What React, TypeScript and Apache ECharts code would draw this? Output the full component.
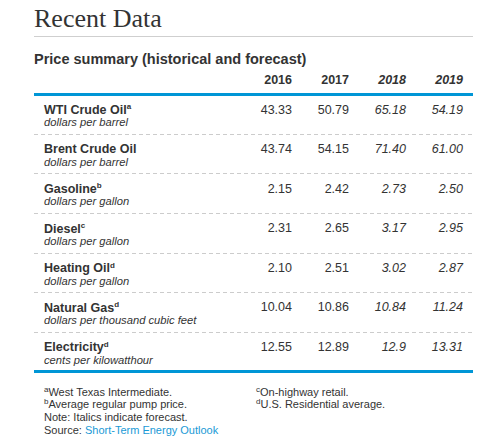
import React, { useEffect, useRef } from "react";
import * as echarts from "echarts";

const titleText = "Recent Data";
const subtitleText = "Price summary (historical and forecast)";
const years = ["2016", "2017", "2018", "2019"];
const forecastYears = [false, false, true, true];
const products = ["WTI Crude Oil", "Brent Crude Oil", "Gasoline", "Diesel", "Heating Oil", "Natural Gas", "Electricity"];
const productNotes = ["a", "", "b", "c", "d", "d", "d"];
const units = [
  "dollars per barrel",
  "dollars per barrel",
  "dollars per gallon",
  "dollars per gallon",
  "dollars per gallon",
  "dollars per thousand cubic feet",
  "cents per kilowatthour",
];
const wti = ["43.33", "50.79", "65.18", "54.19"];
const brent = ["43.74", "54.15", "71.40", "61.00"];
const gasoline = ["2.15", "2.42", "2.73", "2.50"];
const diesel = ["2.31", "2.65", "3.17", "2.95"];
const heatingOil = ["2.10", "2.51", "3.02", "2.87"];
const naturalGas = ["10.04", "10.86", "10.84", "11.24"];
const electricity = ["12.55", "12.89", "12.9", "13.31"];
const footnotesLeft = [
  ["a", "West Texas Intermediate."],
  ["b", "Average regular pump price."],
];
const footnotesRight = [
  ["c", "On-highway retail."],
  ["d", "U.S. Residential average."],
];
const noteText = "Note: Italics indicate forecast.";
const sourceLabel = "Source: ";
const sourceLink = "Short-Term Energy Outlook";

const FONT = "'Liberation Sans', Arial, Helvetica, sans-serif";
const SERIF = "'Liberation Serif', 'Times New Roman', serif";
const TEXT = "#333333";
const BLUE = "#0096d6";
const LINK = "#1a9ad6";

const TABLE_L = 34;
const TABLE_R = 473;
const TABLE_TOP = 94.5;
const TABLE_BOTTOM = 371.5;
const VALUES_L = 245;

export default function App() {
  const ref = useRef<HTMLDivElement>(null);

  useEffect(() => {
    if (!ref.current) return;
    const chart = echarts.init(ref.current, undefined, { renderer: "svg" });

    const rowsValues = [wti, brent, gasoline, diesel, heatingOil, naturalGas, electricity];
    const cells: [number, number, string][] = [];
    rowsValues.forEach((row, r) => row.forEach((v, c) => cells.push([c, r, v])));

    const footGraphics: any[] = [];
    const footTop = 391.5;
    const footStep = 12.8;
    const footStyle = {
      fontFamily: FONT,
      fontSize: 11,
      fill: TEXT,
      verticalAlign: "middle",
      align: "left",
    };
    const supRich = {
      sup: { fontFamily: FONT, fontSize: 8, fill: TEXT, verticalAlign: "top", lineHeight: 6 },
      t: { fontFamily: FONT, fontSize: 11, fill: TEXT, lineHeight: 13 },
      link: { fontFamily: FONT, fontSize: 11, fill: LINK, lineHeight: 13 },
    };
    footnotesLeft.forEach(([s, t], i) => {
      footGraphics.push({
        type: "text",
        x: TABLE_L + 10,
        y: footTop + footStep * i,
        style: { ...footStyle, text: `{sup|${s}}{t|${t}}`, rich: supRich },
      });
    });
    footnotesRight.forEach(([s, t], i) => {
      footGraphics.push({
        type: "text",
        x: 256,
        y: footTop + footStep * i,
        style: { ...footStyle, text: `{sup|${s}}{t|${t}}`, rich: supRich },
      });
    });
    footGraphics.push({
      type: "text",
      x: TABLE_L + 10,
      y: footTop + footStep * 2,
      style: { ...footStyle, text: noteText },
    });
    footGraphics.push({
      type: "text",
      x: TABLE_L + 10,
      y: footTop + footStep * 3,
      style: { ...footStyle, text: `{t|${sourceLabel}}{link|${sourceLink}}`, rich: supRich },
    });

    const option: any = {
      animation: false,
      backgroundColor: "#ffffff",
      graphic: [
        {
          type: "text",
          x: TABLE_L,
          y: 18,
          style: {
            text: titleText,
            fontFamily: SERIF,
            fontSize: 26,
            fill: TEXT,
            verticalAlign: "middle",
          },
        },
        {
          type: "line",
          shape: { x1: TABLE_L, y1: 36.5, x2: TABLE_R, y2: 36.5 },
          style: { stroke: "#cfcfcf", lineWidth: 1 },
        },
        {
          type: "text",
          x: TABLE_L,
          y: 59,
          style: {
            text: subtitleText,
            fontFamily: FONT,
            fontWeight: "bold",
            fontSize: 14.5,
            fill: TEXT,
            verticalAlign: "middle",
          },
        },
        {
          type: "rect",
          z: 100,
          shape: { x: TABLE_L, y: TABLE_TOP - 1.5, width: TABLE_R - TABLE_L, height: 3 },
          style: { fill: BLUE },
        },
        {
          type: "rect",
          z: 100,
          shape: { x: TABLE_L, y: TABLE_BOTTOM - 1.5, width: TABLE_R - TABLE_L, height: 3 },
          style: { fill: BLUE },
        },
        ...footGraphics,
      ],
      grid: [
        {
          left: TABLE_L,
          top: TABLE_TOP,
          width: TABLE_R - TABLE_L,
          height: TABLE_BOTTOM - TABLE_TOP,
          outerBoundsMode: "none",
          containLabel: false,
        },
        {
          left: VALUES_L,
          top: TABLE_TOP,
          width: TABLE_R - VALUES_L,
          height: TABLE_BOTTOM - TABLE_TOP,
          outerBoundsMode: "none",
          containLabel: false,
        },
      ],
      xAxis: [
        { type: "value", gridIndex: 0, show: false, min: 0, max: 1 },
        {
          type: "category",
          gridIndex: 1,
          position: "top",
          data: years,
          axisLine: { show: false },
          axisTick: { show: false },
          splitLine: { show: false },
          axisLabel: {
            interval: 0,
            hideOverlap: false,
            margin: 7.5,
            formatter: (v: string, i: number) => (forecastYears[i] ? `{f|${v}}` : `{h|${v}}`),
            rich: {
              h: {
                fontFamily: FONT,
                fontWeight: "bold",
                fontSize: 12.5,
                color: TEXT,
                width: 37,
                align: "right",
                lineHeight: 14,
              },
              f: {
                fontFamily: FONT,
                fontWeight: "bold",
                fontStyle: "italic",
                fontSize: 12.5,
                color: TEXT,
                width: 37,
                align: "right",
                lineHeight: 14,
              },
            },
          },
        },
      ],
      yAxis: [
        {
          type: "category",
          gridIndex: 0,
          inverse: true,
          data: products,
          axisLine: { show: false },
          axisTick: { show: false },
          splitLine: { show: true, lineStyle: { color: "#cccccc", width: 1, type: [4, 3] } },
          axisLabel: {
            inside: true,
            interval: 0,
            margin: 10,
            padding: [2, 0, 0, 0],
            formatter: (v: string, i: number) => {
              const note = productNotes[i] ? `{s|${productNotes[i]}}` : "";
              return `{n|${v}}${note}\n{u|${units[i]}}`;
            },
            rich: {
              n: { fontFamily: FONT, fontWeight: "bold", fontSize: 12.5, color: TEXT, lineHeight: 14 },
              s: {
                fontFamily: FONT,
                fontWeight: "bold",
                fontSize: 8,
                color: TEXT,
                lineHeight: 6,
                verticalAlign: "top",
              },
              u: { fontFamily: FONT, fontStyle: "italic", fontSize: 11.2, color: TEXT, lineHeight: 11 },
            },
          },
        },
        {
          type: "category",
          gridIndex: 1,
          inverse: true,
          data: products,
          show: false,
        },
      ],
      series: [
        {
          type: "custom",
          xAxisIndex: 1,
          yAxisIndex: 1,
          data: cells.map(([c, r]) => [c, r]),
          renderItem: (params: any, api: any) => {
            const cell = cells[params.dataIndex];
            const pt = api.coord([api.value(0), api.value(1)]);
            const bw = api.size([1, 0])[0];
            const bh = api.size([0, 1])[1];
            return {
              type: "text",
              x: pt[0] + bw / 2 - 10,
              y: pt[1] - bh / 2 + 15,
              style: {
                text: cell[2],
                fontFamily: FONT,
                fontSize: 12.5,
                fontStyle: forecastYears[cell[0]] ? "italic" : "normal",
                fill: TEXT,
                align: "right",
                verticalAlign: "middle",
              },
            };
          },
        },
      ],
    };

    chart.setOption(option);
    return () => chart.dispose();
  }, []);

  return (
    <div
      ref={ref}
      style={{ position: "fixed", left: 0, top: 0, width: 492, height: 441, background: "#fff" }}
    />
  );
}
